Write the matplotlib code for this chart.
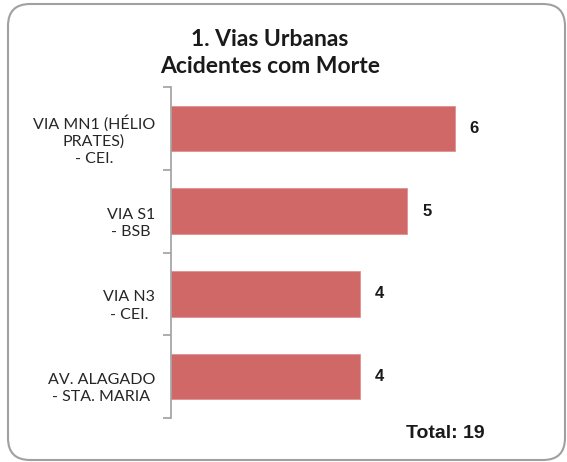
import matplotlib.pyplot as plt
import matplotlib.transforms as mtransforms
from matplotlib.patches import FancyBboxPatch

vias = ["VIA MN1 (HÉLIO\nPRATES)\n- CEI.", "VIA S1\n- BSB", "VIA N3\n- CEI.", "AV. ALAGADO\n- STA. MARIA"]
mortes = [6, 5, 4, 4]
total = 19

fig = plt.figure(figsize=(5.67, 4.62), dpi=100)
ax = fig.add_axes([171/567, 44/462, 331/567, 331/462])

# rounded frame around the whole chart (display pixels)
frame = FancyBboxPatch((8, 2), 557, 456, boxstyle="round,pad=0,rounding_size=22",
                       transform=None, fill=False, edgecolor="#a0a0a0", linewidth=1.5)
fig.patches.append(frame)

pos = list(range(len(vias)))
ax.barh(pos, mortes, height=0.55, color="#d16868", edgecolor="#e09090", linewidth=0.6)

for y, v in zip(pos, mortes):
    ax.annotate(str(v), (v, y), xytext=(15, 0), textcoords="offset pixels",
                ha="left", va="center", fontsize=12, fontweight="bold",
                family="Liberation Sans", color="#1a1a1a")

ax.set_xlim(0, 7)
ax.set_ylim(len(vias) - 0.5, -0.5)
for s in ["top", "right", "bottom"]:
    ax.spines[s].set_visible(False)
ax.spines["left"].set_color("#a0a0a0")
ax.spines["left"].set_linewidth(1.2)
ax.set_xticks([])

ax.set_yticks(pos)
ax.set_yticklabels(vias, family="Lato", fontsize=11.5, color="#262626")
ax.set_yticks([p - 0.5 for p in pos] + [len(vias) - 0.5], minor=True)
ax.tick_params(axis="y", which="major", length=0, pad=11.5)
ax.tick_params(axis="y", which="minor", length=6, width=1.2, color="#a0a0a0")

shift = mtransforms.ScaledTranslation(0, -9/100, fig.dpi_scale_trans)
for lbl in ax.get_yticklabels():
    lbl.set_multialignment("center")
    lbl.set_linespacing(1.3)
    lbl.set_transform(lbl.get_transform() + shift)

fig.text(270/567, 1 - 53/462, "1. Vias Urbanas\nAcidentes com Morte", ha="center", va="center",
         family="Lato", fontweight="bold", fontsize=16.5, color="#1a1a1a", linespacing=1.3)

fig.text(445/567, 1 - 433/462, "Total: %d" % total, ha="center", va="center",
         family="Liberation Sans", fontweight="bold", fontsize=14, color="#1a1a1a")

fig.savefig("out.png", dpi=100)
